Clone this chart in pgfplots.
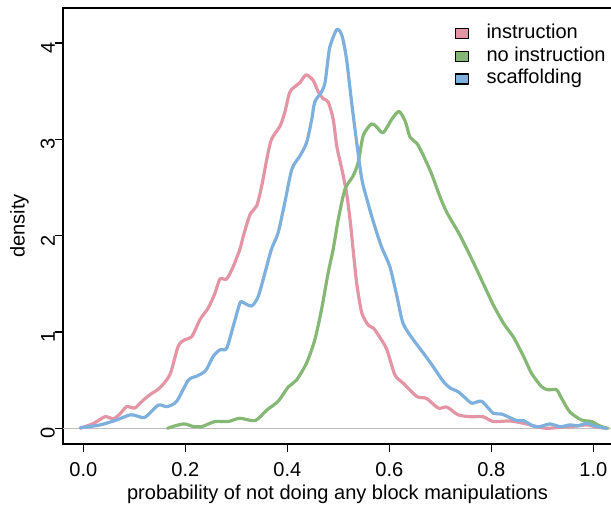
\documentclass[border=0pt]{standalone}
\usepackage{pgfplots}
\pgfplotsset{compat=1.18}
\usepackage{fontspec}
\setmainfont{Liberation Sans}

\definecolor{instc}{HTML}{E495A5}
\definecolor{noinstc}{HTML}{86B875}
\definecolor{scafc}{HTML}{7DB0DD}
\definecolor{zeroline}{HTML}{BEBEBE}

\newcommand{\labelfont}{\fontsize{20.1}{24}\selectfont}

% kernel density estimates, one table per condition
\pgfplotstableread{
x y
-0.006 0.0
0.020 0.05
0.0425 0.12
0.059 0.10
0.072 0.15
0.085 0.225
0.101 0.21
0.115 0.28
0.131 0.35
0.150 0.42
0.170 0.56
0.186 0.85
0.199 0.92
0.2125 0.95
0.229 1.13
0.245 1.25
0.258 1.40
0.268 1.55
0.281 1.55
0.294 1.68
0.307 1.86
0.314 2.00
0.327 2.22
0.340 2.31
0.350 2.52
0.360 2.80
0.369 3.00
0.386 3.14
0.395 3.28
0.405 3.49
0.418 3.56
0.425 3.59
0.437 3.67
0.451 3.61
0.461 3.49
0.471 3.42
0.480 3.39
0.490 3.21
0.497 2.93
0.507 2.69
0.516 2.45
0.523 2.17
0.529 1.86
0.536 1.51
0.546 1.20
0.559 1.07
0.569 1.04
0.582 0.94
0.595 0.82
0.611 0.555
0.627 0.47
0.654 0.33
0.673 0.31
0.696 0.21
0.713 0.22
0.735 0.14
0.760 0.12
0.784 0.12
0.804 0.07
0.837 0.076
0.869 0.045
0.889 0.017
0.909 0.0
0.935 0.01
0.967 0.024
0.987 0.035
1.005 0.015
1.026 0.0
}\instruction

\pgfplotstableread{
x y
0.165 0.0
0.183 0.03
0.199 0.045
0.215 0.02
0.232 0.017
0.258 0.07
0.284 0.07
0.307 0.104
0.337 0.08
0.360 0.19
0.382 0.28
0.402 0.43
0.418 0.50
0.438 0.68
0.454 0.92
0.467 1.23
0.480 1.61
0.490 1.86
0.500 2.17
0.513 2.48
0.529 2.62
0.539 2.76
0.549 3.04
0.565 3.16
0.575 3.13
0.588 3.07
0.605 3.21
0.619 3.29
0.631 3.19
0.641 3.02
0.654 2.96
0.667 2.83
0.683 2.64
0.699 2.41
0.713 2.24
0.739 2.00
0.765 1.72
0.788 1.46
0.804 1.28
0.824 1.09
0.843 0.95
0.863 0.75
0.879 0.57
0.899 0.43
0.912 0.40
0.928 0.40
0.938 0.31
0.954 0.17
0.977 0.086
0.997 0.07
1.013 0.024
1.029 0.0
}\noinstruction

\pgfplotstableread{
x y
-0.006 0.006
0.033 0.035
0.065 0.086
0.092 0.14
0.105 0.128
0.121 0.115
0.147 0.24
0.164 0.225
0.183 0.28
0.206 0.50
0.222 0.54
0.240 0.60
0.255 0.75
0.268 0.815
0.281 0.83
0.294 1.06
0.307 1.30
0.312 1.31
0.330 1.27
0.343 1.37
0.356 1.61
0.369 1.86
0.382 2.03
0.395 2.34
0.409 2.69
0.425 2.83
0.438 2.97
0.448 3.21
0.454 3.39
0.467 3.49
0.474 3.59
0.480 3.84
0.484 3.97
0.497 4.14
0.507 4.08
0.516 3.84
0.526 3.39
0.536 2.97
0.546 2.59
0.556 2.38
0.569 2.14
0.585 1.88
0.601 1.68
0.615 1.37
0.627 1.09
0.647 0.92
0.667 0.78
0.686 0.64
0.706 0.485
0.719 0.42
0.735 0.38
0.748 0.32
0.762 0.26
0.781 0.28
0.804 0.156
0.820 0.149
0.850 0.08
0.863 0.08
0.882 0.024
0.895 0.017
0.915 0.045
0.935 0.017
0.954 0.035
0.971 0.027
0.987 0.052
1.007 0.017
1.026 0.0
}\scaffolding

% filled square with a black border as legend key
\newcommand{\keysquare}[1]{\draw[black, line width=1.1bp, fill=#1] (0bp,-5bp) rectangle (13bp,5bp); \path[draw=none] (13bp,0) -- (31bp,0);}

\begin{document}
\begin{tikzpicture}
\begin{axis}[
  scale only axis,
  width=549bp, height=436bp,
  xmin=-0.0398, xmax=1.0367,
  ymin=-0.163, ymax=4.364,
  axis line style={line width=1.2bp, black},
  tick style={line width=1.2bp, black},
  tick align=outside,
  tick pos=left,
  major tick length=8bp,
  xtick={0,0.2,0.4,0.6,0.8,1},
  xticklabels={0.0,0.2,0.4,0.6,0.8,1.0},
  ytick={0,1,2,3,4},
  yticklabels={0,1,2,3,4},
  tick label style={font=\labelfont},
  xticklabel style={anchor=north, inner sep=0pt, yshift=-10bp},
  yticklabel style={rotate=90, anchor=south, inner sep=0pt, xshift=-5bp},
  xlabel={probability of not doing any block manipulations},
  ylabel={density},
  label style={font=\labelfont},
  xlabel style={at={(axis description cs:0.5,-0.1147)}, anchor=center, inner sep=0pt},
  ylabel style={at={(axis description cs:-0.0792,0.5)}, anchor=center, inner sep=0pt},
  legend style={
    draw=none, fill=none, inner sep=0pt, outer sep=0pt,
    at={(axis description cs:0.714,0.962)}, anchor=north west,
    font=\labelfont,
    nodes={text height=14bp, text depth=4bp, inner sep=0pt},
    row sep=4.7bp,
    /tikz/every even column/.append style={column sep=0bp},
  },
  legend cell align=left,
  every axis plot/.append style={line width=3.2bp, line join=round, line cap=round, smooth, tension=0.45},
]
\addplot[forget plot, zeroline, line width=1.3bp, sharp plot] coordinates {(-0.0398,0) (1.0367,0)};

\addplot[instc, legend image code/.code={\keysquare{instc}}]
  table[x=x, y=y] {\instruction};
\addlegendentry{instruction}

\addplot[noinstc, legend image code/.code={\keysquare{noinstc}}]
  table[x=x, y=y] {\noinstruction};
\addlegendentry{no instruction}

\addplot[scafc, legend image code/.code={\keysquare{scafc}}]
  table[x=x, y=y] {\scaffolding};
\addlegendentry{scaffolding}
\end{axis}
\pgfresetboundingbox
\path[use as bounding box] (-63bp,-64bp) rectangle (548bp,444bp);
\end{tikzpicture}
\end{document}
